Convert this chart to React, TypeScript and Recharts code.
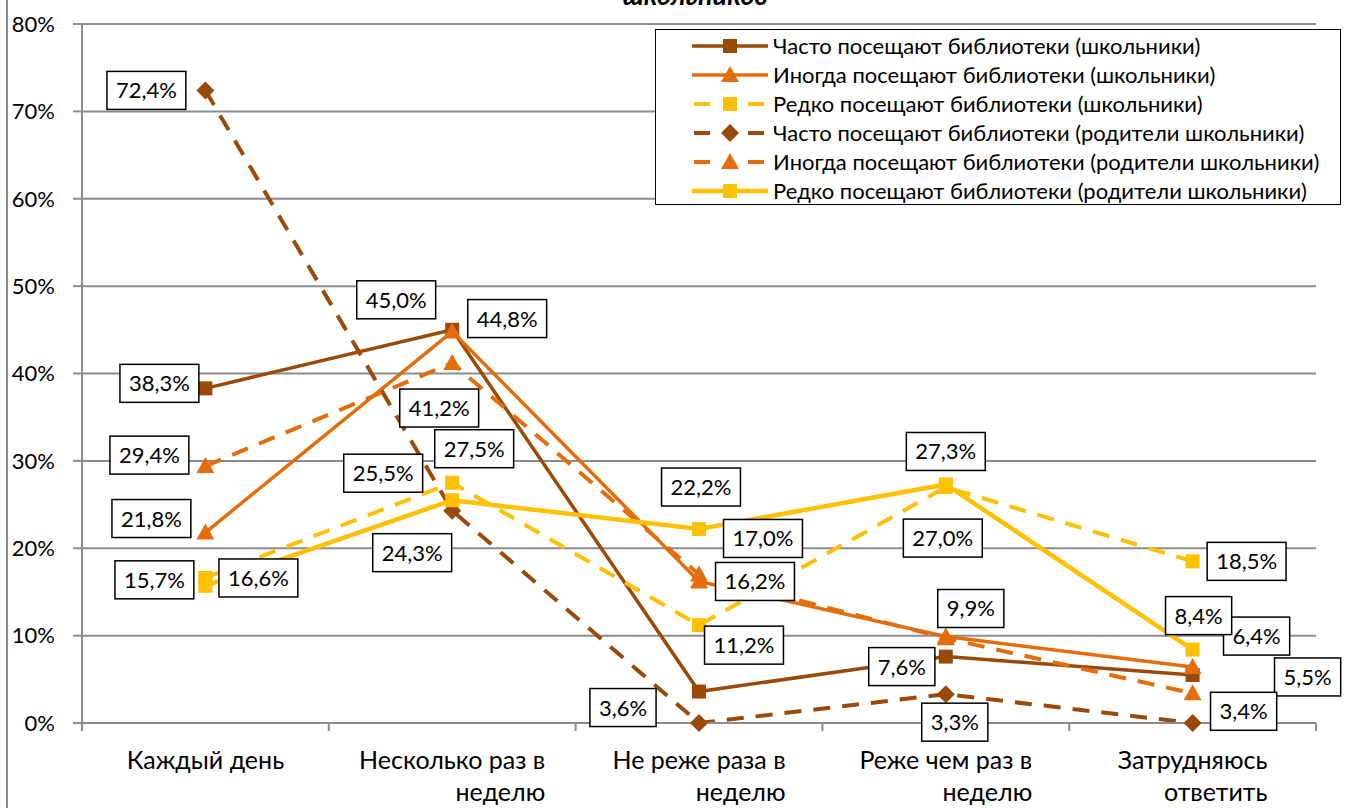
import React from "react";
import { LineChart, Line, XAxis, YAxis, CartesianGrid, Legend, LabelList } from "recharts";

// categories (line breaks follow the original axis wrapping)
const categories = [
  "Каждый день",
  "Несколько раз в\nнеделю",
  "Не реже раза в\nнеделю",
  "Реже чем раз в\nнеделю",
  "Затрудняюсь\nответить",
];

// values, %
const oftenPupils = [38.3, 45.0, 3.6, 7.6, 5.5];
const sometimesPupils = [21.8, 44.8, 16.2, 9.9, 6.4];
const rarelyPupils = [16.6, 27.5, 11.2, 27.0, 18.5];
const oftenParents = [72.4, 24.3, 0, 3.3, 0];
const sometimesParents = [29.4, 41.2, 17.0, 9.7, 3.4];
const rarelyParents = [15.7, 25.5, 22.2, 27.3, 8.4];

const yTicks = [0, 10, 20, 30, 40, 50, 60, 70, 80];

const BROWN = "#9a4a08";
const ORANGE = "#e46c0a";
const YELLOW = "#ffc000";
const GRID = "#8c8c8c";
const FONT = "Lato, 'Open Sans', sans-serif";

type Nudge = [number, number] | null;

const series = [
  {
    key: "s1", name: "Часто посещают библиотеки (школьники)", values: oftenPupils,
    color: BROWN, dashed: false, width: 3.5, marker: "square",
    nudge: [[-46, -5], [-56, -30], [-76, 16], [-44, 10], [115, 2]] as Nudge[],
  },
  {
    key: "s2", name: "Иногда посещают библиотеки (школьники)", values: sometimesPupils,
    color: ORANGE, dashed: false, width: 3.5, marker: "triangle",
    nudge: [[-54, -14], [55, -13], [56, 0], [25, -28], [64, -31]] as Nudge[],
  },
  {
    key: "s3", name: "Редко посещают библиотеки (школьники)", values: rarelyPupils,
    color: YELLOW, dashed: true, width: 4, marker: "square",
    nudge: [[53, 0], [22, -34], [45, 20], [-3, 51], [54, 0]] as Nudge[],
  },
  {
    key: "s4", name: "Часто посещают библиотеки (родители школьники)", values: oftenParents,
    color: BROWN, dashed: true, width: 4, marker: "diamond",
    nudge: [[-59, 0], [-40, 42], null, [9, 28], null] as Nudge[],
  },
  {
    key: "s5", name: "Иногда посещают библиотеки (родители школьники)", values: sometimesParents,
    color: ORANGE, dashed: true, width: 4, marker: "triangle",
    nudge: [[-56, -11], [-13, 45], [64, -36], null, [51, 18]] as Nudge[],
  },
  {
    key: "s6", name: "Редко посещают библиотеки (родители школьники)", values: rarelyParents,
    color: YELLOW, dashed: false, width: 4.5, marker: "square",
    nudge: [[-51, -6], [-69, -27], [2, -42], [0, -33], [6, -34]] as Nudge[],
  },
];

const data = categories.map((c, i) => {
  const row: any = { x: i + 0.5, cat: c };
  series.forEach((s) => (row[s.key] = s.values[i]));
  return row;
});

const xTicks = [0, 0.5, 1, 1.5, 2, 2.5, 3, 3.5, 4, 4.5, 5];

let ctx: CanvasRenderingContext2D | null = null;
function measure(text: string, font: string) {
  if (!ctx && typeof document !== "undefined") ctx = document.createElement("canvas").getContext("2d");
  if (!ctx) return text.length * 10;
  ctx.font = font;
  return ctx.measureText(text).width;
}

function Marker({ cx, cy, type, color }: any) {
  if (cx == null || cy == null) return null;
  if (type === "square") return <rect x={cx - 7} y={cy - 7} width={14} height={14} fill={color} />;
  if (type === "triangle")
    return <polygon points={`${cx},${cy - 9} ${cx - 9},${cy + 7} ${cx + 9},${cy + 7}`} fill={color} />;
  return <polygon points={`${cx},${cy - 9} ${cx + 9},${cy} ${cx},${cy + 9} ${cx - 9},${cy}`} fill={color} />;
}

const XTick = (props: any) => {
  const { x, y, payload } = props;
  const v = payload.value;
  if (Number.isInteger(v)) {
    return <line x1={x} x2={x} y1={y} y2={y + 8} stroke={GRID} strokeWidth={2} />;
  }
  const lines = categories[Math.floor(v)].split("\n");
  const w0 = measure(lines[0], `25px ${FONT}`);
  return (
    <g fontFamily={FONT} fontSize={25} fill="#000">
      {lines.map((l, i) => (
        <text key={i} x={i === 0 ? x : x + w0 / 2} y={y + 46 + i * 32} textAnchor={i === 0 ? "middle" : "end"}>
          {l}
        </text>
      ))}
    </g>
  );
};

const makeLabel = (nudge: Nudge[]) => (props: any) => {
  const { x, y, value, index } = props;
  const n = nudge[index];
  if (!n || value == null) return null;
  const txt = Number(value).toFixed(1).replace(".", ",") + "%";
  const w = measure(txt, `22px ${FONT}`) + 18;
  const h = 38;
  const cx = Number(x) + n[0];
  const cy = Number(y) + n[1];
  return (
    <g>
      <rect x={cx - w / 2} y={cy - h / 2} width={w} height={h} fill="#fff" stroke="#000" strokeWidth={1.5} />
      <text x={cx} y={cy + 8} textAnchor="middle" fontFamily={FONT} fontSize={22} fill="#000">
        {txt}
      </text>
    </g>
  );
};

const LegendBox = () => (
  <div
    style={{
      width: 686,
      height: 176,
      boxSizing: "border-box",
      border: "1.5px solid #000",
      background: "#fff",
      paddingTop: 1,
      fontFamily: FONT,
      fontSize: 22,
      color: "#000",
    }}
  >
    {series.map((s) => (
      <div key={s.key} style={{ height: 29, display: "flex", alignItems: "center" }}>
        <svg width={80} height={24} style={{ marginLeft: 34, marginRight: 3 }}>
          {s.dashed ? (
            <g stroke={s.color} strokeWidth={s.width}>
              <line x1={4} x2={20} y1={12} y2={12} />
              <line x1={58} x2={74} y1={12} y2={12} />
            </g>
          ) : (
            <line x1={2} x2={78} y1={12} y2={12} stroke={s.color} strokeWidth={s.width} />
          )}
          <Marker cx={40} cy={12} type={s.marker} color={s.color} />
        </svg>
        <span style={{ whiteSpace: "nowrap" }}>{s.name}</span>
      </div>
    ))}
  </div>
);

export default function App() {
  return (
    <div style={{ position: "absolute", left: 0, top: 0, width: 1352, height: 808, overflow: "hidden", background: "#fff" }}>
      <div style={{ position: "absolute", left: 6, top: 0, width: 0, height: 808, borderLeft: `2px solid ${GRID}` }} />
      <div
        style={{
          position: "absolute", left: 0, width: 1390, top: -21, textAlign: "center",
          fontFamily: FONT, fontWeight: 700, fontStyle: "italic", fontSize: 27, lineHeight: "32px",
        }}
      >
        школьников
      </div>
      <LineChart
        width={1352}
        height={808}
        data={data}
        margin={{ top: 24, right: 36, bottom: 0, left: 0 }}
        style={{ position: "absolute", left: 0, top: 0 }}
      >
        <CartesianGrid vertical={false} stroke={GRID} strokeWidth={2} />
        <XAxis
          dataKey="x"
          type="number"
          domain={[0, 5]}
          ticks={xTicks}
          interval={0}
          height={85}
          tickSize={0}
          tickMargin={0}
          tickLine={false}
          axisLine={{ stroke: GRID, strokeWidth: 2 }}
          tick={<XTick />}
        />
        <YAxis
          domain={[0, 80]}
          ticks={yTicks}
          width={82}
          tickSize={9}
          tickMargin={18}
          tickFormatter={(v) => `${v}%`}
          tickLine={{ stroke: GRID, strokeWidth: 2 }}
          axisLine={{ stroke: GRID, strokeWidth: 2 }}
          tick={{ fill: "#000", fontSize: 22, fontFamily: FONT }}
        />
        <Legend
          layout="vertical"
          align="center"
          verticalAlign="middle"
          wrapperStyle={{ left: 655, top: 29, width: 686 }}
          content={<LegendBox />}
        />
        {series.map((s) => (
          <Line
            key={s.key}
            type="linear"
            dataKey={s.key}
            name={s.name}
            stroke={s.color}
            strokeWidth={s.width}
            strokeDasharray={s.dashed ? "17 12" : undefined}
            dot={(p: any) => <Marker key={`${s.key}-${p.index}`} cx={p.cx} cy={p.cy} type={s.marker} color={s.color} />}
            activeDot={false}
            isAnimationActive={false}
          />
        ))}
        {series.map((s) => (
          <Line
            key={`${s.key}-labels`}
            dataKey={s.key}
            stroke="none"
            dot={false}
            activeDot={false}
            legendType="none"
            isAnimationActive={false}
          >
            <LabelList dataKey={s.key} content={makeLabel(s.nudge)} />
          </Line>
        ))}
      </LineChart>
    </div>
  );
}
